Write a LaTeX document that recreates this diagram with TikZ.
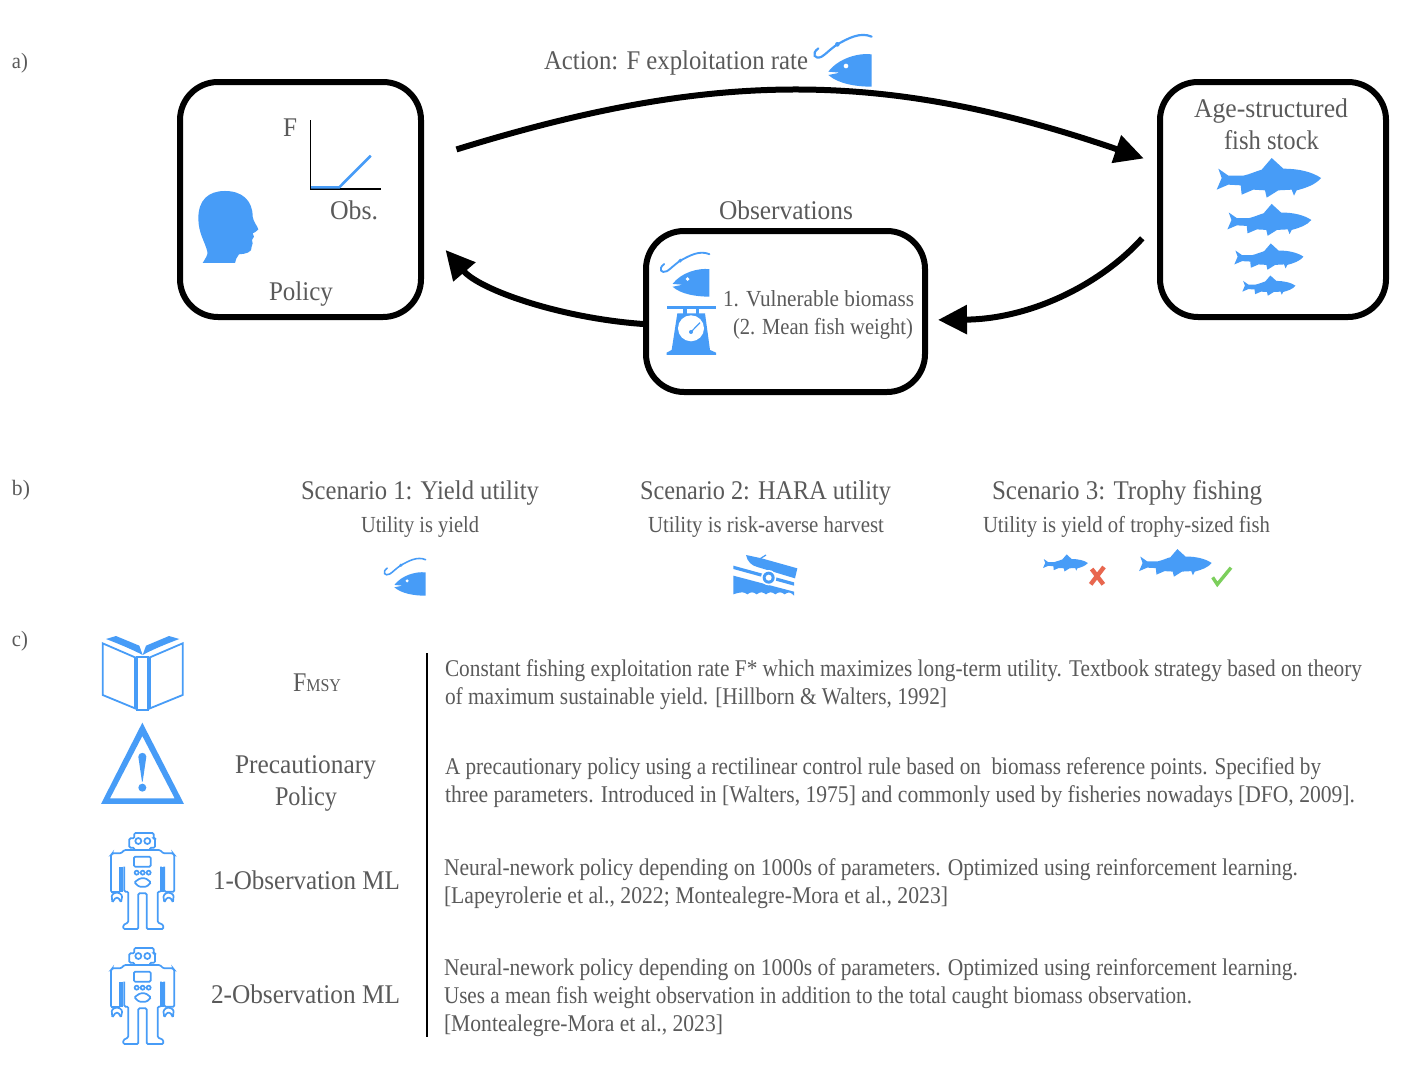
\documentclass[tikz,border=0pt]{standalone}
\usepackage{fontspec}
\usepackage{graphicx}
\setmainfont{Liberation Serif}
\usetikzlibrary{arrows.meta}
\definecolor{iconblue}{HTML}{479CF7}
\definecolor{txtgray}{HTML}{5A5A5A}
\definecolor{crossred}{HTML}{E8674F}
\definecolor{tickgreen}{HTML}{7CCF5C}
\newsavebox\fwbox
\newcommand\fw[3]{\sbox\fwbox{\fontsize{#2pt}{#2pt}\selectfont #3}\pgfmathsetmacro\fwr{#1/\the\wd\fwbox}\scalebox{\fwr}[1]{\usebox\fwbox}}
\newcommand\fishmark[3]{%
  \fill[icon,shift={(#1,#2)},scale=#3]
   (-152,-28) -- (-122,-7) -- (-77,-7) .. controls (-55,-12) and (-40,-20) .. (-22,-25)
   -- (8,-60) -- (43,-28) .. controls (90,-28) and (130,-18) .. (156,0)
   .. controls (140,20) and (110,30) .. (83,37) -- (75,53) -- (68,35) -- (28,37) -- (-7,59) -- (-12,37) -- (-47,35)
   -- (-82,50) -- (-85,22) -- (-122,20) -- (-157,35) -- (-142,0) -- cycle;}
\newcommand\hookfish[3]{%
  \begin{scope}[shift={(#1,#2)},scale=#3]
  \fill[icon] (65,-17) .. controls (25,-22) and (-35,-5) .. (-65,35) -- (-30,38) -- (-65,45)
     .. controls (-35,72) and (20,80) .. (65,80) -- cycle;
  \fill[white] (-12,18) circle[radius=7];
  \draw[iconblue,line width=#3*6.5pt,line cap=round] (65,-70) .. controls (30,-85) and (-5,-65) .. (-38,-47)
     .. controls (-60,-32) and (-72,-18) .. (-85,-10) .. controls (-105,0) and (-118,-18) .. (-95,-35);
  \fill[icon] (-38,-47) circle[radius=7];
  \end{scope}}
\newcommand\robot[2]{%
  \begin{scope}[shift={(#1,#2)},scale=0.3333,draw=iconblue,line width=1.7pt,rounded corners=1.2pt]
  \draw (118,75) -- (118,68) -- (103,68) -- (103,40) -- (118,40) -- (118,24) -- (176,24) -- (176,40) -- (180,40) -- (180,68) -- (165,68) -- (165,75);
  \draw (130,48) circle[radius=9] (157,48) circle[radius=9];
  \draw (48,200) -- (48,90) -- (52,85) -- (78,85) -- (88,75) -- (195,75) -- (205,85) -- (234,85) -- (238,90) -- (238,200) -- (208,200) -- (208,125);
  \draw (75,200) -- (48,200);
  \draw (75,200) -- (75,125);
  \draw[line width=3pt] (80,125) -- (80,200) (203,125) -- (203,200);
  \draw (88,125) -- (88,200) -- (100,200) -- (100,292) -- (85,300) -- (85,312) -- (130,312) -- (130,205) -- (155,205) -- (155,312) -- (205,312) -- (205,300) -- (188,292) -- (188,200) -- (198,200) -- (198,125);
  \draw (117,95) rectangle (167,125);
  \draw (125,143) circle[radius=6] (143,143) circle[radius=6] (161,143) circle[radius=6];
  \draw (118,172) -- (135,160) -- (152,160) -- (168,172) -- (155,185) -- (132,185) -- cycle;
  \draw (52,232) -- (50,210) -- (60,203) -- (72,203) -- (82,212) -- (78,232) -- (70,218) -- (62,218) -- cycle;
  \draw (208,232) -- (205,212) -- (215,203) -- (225,203) -- (236,210) -- (234,232) -- (226,218) -- (216,218) -- cycle;
  \end{scope}}
\tikzset{
  icon/.style={fill=iconblue,draw=none},
  box/.style={draw=black,line width=6pt,rounded corners=38pt,inner sep=0pt,fill=white},
  lab/.style={anchor=base west,inner sep=0pt,outer sep=0pt,text=txtgray},
  flow/.style={draw=black,line width=6pt,-{Triangle[length=29pt,width=28pt]}},
  thin axis/.style={draw=black,line width=1.5pt}
}
\begin{document}
\begin{tikzpicture}[x=1pt,y=-1pt]
\useasboundingbox (0,0) rectangle (1404,1073);
\fill[white] (0,0) rectangle (1404,1073);

% panel a boxes
\node[box,minimum width=241pt,minimum height=235pt] (policy) at (300.5,199.5) {};
\node[box,minimum width=226pt,minimum height=235pt] (stock) at (1273,199.5) {};
\node[box,minimum width=279pt,minimum height=161pt] (obsbox) at (785.5,311.5) {};

% connectors
\draw[flow,shorten <=34pt,shorten >=14pt] ([yshift=40pt]policy.east) .. controls (710,71) and (880,68) .. ([yshift=36.5pt]stock.west);
\draw[flow,shorten <=22pt,shorten >=10pt] ([yshift=-22.5pt]stock.west) .. controls (1100,285) and (1030,319) .. ([yshift=-8.5pt]obsbox.east);
\draw[flow,shorten >=33pt] ([yshift=-12.5pt]obsbox.west) .. controls (560,318) and (480,290) .. ([yshift=-25.5pt]policy.east);

% panel letters
\node[lab] (la) at (12,68) {\fw{16}{22}{a)}};
\node[lab] (lb) at (12,495) {\fw{18}{22}{b)}};
\node[lab] (lc) at (12,646) {\fw{16}{22}{c)}};

% panel a text
\node[lab] (action) at (544,70) {\fw{264}{27}{Action: F exploitation rate}};
\node[lab] (fl) at (283,136) {\fw{14}{27}{F}};
\node[lab] (obsl) at (330,219) {\fw{48}{27}{Obs.}};
\node[lab] (pol) at (269,300) {\fw{64}{27}{Policy}};
\node[lab] (obst) at (719,219) {\fw{134}{27}{Observations}};
\node[lab] (o1) at (723,306) {\fw{191}{23}{1. Vulnerable biomass}};
\node[lab] (o2) at (733,334) {\fw{180}{23}{(2. Mean fish weight)}};
\node[lab] (age) at (1194,117) {\fw{154}{27}{Age-structured}};
\node[lab] (fs) at (1224,149) {\fw{95}{27}{fish stock}};

% graph
\coordinate (orig) at (310.7,189);
\coordinate (ytop) at (310.7,120);
\coordinate (xend) at (380.7,189);
\draw[thin axis] (ytop) -- (orig) -- (xend);
\coordinate (k0) at (311,187.3);
\coordinate (k1) at (339.3,187.3);
\coordinate (k2) at (370.7,155.7);
\draw[iconblue,line width=2.6pt] (k0) -- (k1) -- (k2);

% head
\begin{scope}[shift={(170,20)},scale=0.3333]
\fill[icon] (98,729) .. controls (108,712) and (114,705) .. (112,695)
  .. controls (105,665) and (85,640) .. (85,595) .. controls (85,540) and (115,513) .. (165,513)
  .. controls (215,513) and (248,540) .. (248,590) .. controls (250,605) and (262,618) .. (265,628)
  .. controls (262,636) and (252,636) .. (248,640) -- (252,650) -- (246,660) -- (248,670) -- (245,680)
  .. controls (248,698) and (225,702) .. (207,703) .. controls (200,710) and (197,720) .. (195,729) -- cycle;
\end{scope}

% hook fish
\hookfish{850}{60}{0.3333}
\hookfish{691}{274}{0.283}
\hookfish{410}{576.5}{0.24}

% weighing scale
\begin{scope}[shift={(640,20)},scale=0.3333]
\fill[icon] (80,857) rectangle (228,867);
\fill[icon] (130,867) rectangle (140,882);
\fill[icon] (168,867) rectangle (178,882);
\fill[icon] (112,880) -- (195,880) -- (210,990) -- (228,998) -- (228,1005) -- (80,1005) -- (80,998) -- (95,990) -- cycle;
\fill[white] (153,925) circle[radius=39];
\draw[iconblue,line width=1.2pt] (153,936) -- (180,908);
\fill[icon] (153,936) circle[radius=6];
\end{scope}

% fish stock
\fishmark{1269}{178}{0.3333}
\fishmark{1269.5}{220}{0.268}
\fishmark{1269}{256.7}{0.221}
\fishmark{1269}{285.7}{0.17}

% panel b
\node[lab] (s1) at (301,499) {\fw{238}{27}{Scenario 1: Yield utility}};
\node[lab] (u1) at (361,532) {\fw{118}{23}{Utility is yield}};
\node[lab] (s2) at (640,499) {\fw{251}{27}{Scenario 2: HARA utility}};
\node[lab] (u2) at (648,532) {\fw{236}{23}{Utility is risk-averse harvest}};
\node[lab] (s3) at (992,499) {\fw{270}{27}{Scenario 3: Trophy fishing}};
\node[lab] (u3) at (983,532) {\fw{287}{23}{Utility is yield of trophy-sized fish}};

% boat
\begin{scope}[shift={(720,545)},scale=0.3333]
\fill[icon] (78,30) -- (125,40) -- (232,70) -- (225,100) -- (112,66) .. controls (95,62) and (82,50) .. (78,30) -- cycle;
\draw[iconblue,line width=1.2pt] (122,40) -- (138,30);
\fill[icon] (40,62) -- (222,112) -- (222,122) -- (40,72) -- cycle;
\fill[icon] (40,92) -- (222,140) -- (222,152)
  .. controls (212,140) and (204,140) .. (194,148) .. controls (184,140) and (176,140) .. (166,148)
  .. controls (156,140) and (148,140) .. (138,148) .. controls (128,140) and (120,140) .. (110,148)
  .. controls (100,140) and (92,140) .. (82,148) .. controls (72,140) and (64,140) .. (40,148) -- cycle;
\fill[white] (146,98) circle[radius=23];
\fill[icon] (146,98) circle[radius=18];
\fill[white] (146,98) circle[radius=9];
\end{scope}

% trophy icons
\fishmark{1065.5}{563}{0.143}
\fishmark{1175.5}{563}{0.232}
\begin{scope}[shift={(1035,545)},scale=0.3333]
\coordinate (xa) at (167,118);
\coordinate (xb) at (207,66);
\coordinate (xc) at (170,72);
\coordinate (xd) at (205,118);
\draw[crossred,line width=4.4pt] (xa) -- (xb) (xc) -- (xd);
\coordinate (ca) at (533,97);
\coordinate (cb) at (547,118);
\coordinate (cc) at (588,68);
\draw[tickgreen,line width=3.4pt] (ca) -- (cb) -- (cc);
\end{scope}

% panel c icons
\begin{scope}[shift={(90,625)},scale=0.3333]
\draw[iconblue,line width=1.8pt] (38,55) -- (135,97) -- (135,250) -- (38,210) -- cycle;
\draw[iconblue,line width=1.8pt] (278,55) -- (180,97) -- (180,250) -- (278,210) -- cycle;
\draw[iconblue,line width=2.2pt] (142,97) rectangle (174,256);
\fill[icon] (48,42) -- (78,33) -- (148,62) -- (158,90) .. controls (130,75) and (90,58) .. (48,42) -- cycle;
\fill[icon] (268,42) -- (237,33) -- (168,62) -- (158,90) .. controls (185,75) and (225,58) .. (268,42) -- cycle;
\fill[icon,even odd rule] (157,293) -- (282,537) -- (33,537) -- cycle (157,333) -- (60,520) -- (254,520) -- cycle;
\fill[icon] (145,395) .. controls (145,380) and (169,380) .. (169,395) -- (158,470) -- (156,470) -- cycle;
\fill[icon] (157,488) circle[radius=12];
\end{scope}
\robot{95}{825}
\robot{95}{940}

% panel c labels
\node[lab] (fmsy) at (293,691) {\fw{48}{27}{F\fontsize{18pt}{18pt}\selectfont MSY}};
\node[lab] (p1) at (235,773) {\fw{141}{27}{Precautionary}};
\node[lab] (p2) at (275,805) {\fw{62}{27}{Policy}};
\node[lab] (m1) at (213,889) {\fw{187}{27}{1-Observation ML}};
\node[lab] (m2) at (211,1003) {\fw{189}{27}{2-Observation ML}};

\coordinate (vtop) at (426.5,653);
\coordinate (vbot) at (426.5,1037);
\draw[black,line width=2pt] (vtop) -- (vbot);

% descriptions
\node[lab] (t1) at (445,676) {\fw{917}{24}{Constant fishing exploitation rate F* which maximizes long-term utility. Textbook strategy based on theory}};
\node[lab] (t2) at (445,704) {\fw{502}{24}{of maximum sustainable yield. [Hillborn \& Walters, 1992]}};
\node[lab] (t3) at (445,774) {\fw{876}{24}{A precautionary policy using a rectilinear control rule based on\ \ biomass reference points. Specified by}};
\node[lab] (t4) at (445,802) {\fw{910}{24}{three parameters. Introduced in [Walters, 1975] and commonly used by fisheries nowadays [DFO, 2009].}};
\node[lab] (t5) at (444,875) {\fw{854}{24}{Neural-nework policy depending on 1000s of parameters. Optimized using reinforcement learning.}};
\node[lab] (t6) at (444,903) {\fw{504}{24}{[Lapeyrolerie et al., 2022; Montealegre-Mora et al., 2023]}};
\node[lab] (t7) at (444,975) {\fw{854}{24}{Neural-nework policy depending on 1000s of parameters. Optimized using reinforcement learning.}};
\node[lab] (t8) at (444,1003) {\fw{748}{24}{Uses a mean fish weight observation in addition to the total caught biomass observation.}};
\node[lab] (t9) at (444,1031) {\fw{279}{24}{[Montealegre-Mora et al., 2023]}};
\end{tikzpicture}
\end{document}
